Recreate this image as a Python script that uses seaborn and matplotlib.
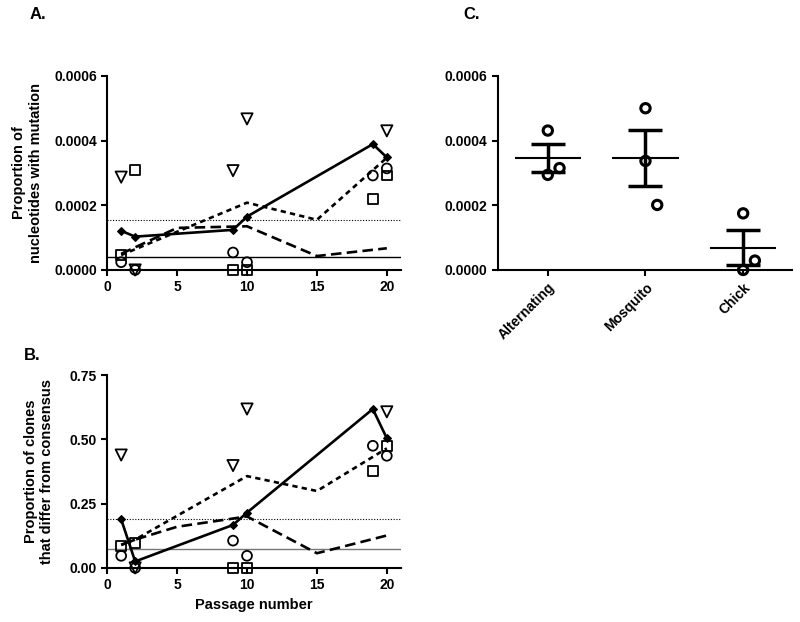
import numpy as np
import matplotlib
matplotlib.use("Agg")
import matplotlib.pyplot as plt
import seaborn as sns

# --- data ---
# open symbols: individual lineages
circle_x = [1, 2, 9, 10, 19, 20]
square_x = [1, 2, 9, 10, 19, 20]
tri_x = [1, 2, 9, 10, 20]

A_circle = [0.000024, 0.0, 0.000054, 0.000024, 0.000292, 0.000314]
A_square = [0.000046, 0.000308, 0.0, 0.0, 0.000220, 0.000292]
A_tri = [0.000287, 0.0, 0.000307, 0.000467, 0.000430]

B_circle = [0.047, 0.0, 0.106, 0.047, 0.475, 0.436]
B_square = [0.086, 0.098, 0.0, 0.0, 0.377, 0.475]
B_tri = [0.439, 0.0, 0.398, 0.618, 0.607]

# lines
solid_x = [1, 2, 9, 10, 19, 20]
A_solid = [0.000121, 0.000103, 0.000124, 0.000165, 0.000389, 0.000348]
B_solid = [0.189, 0.025, 0.167, 0.215, 0.618, 0.504]

short_x = [1, 2, 10, 15, 20]
A_short = [0.000046, 0.000064, 0.000208, 0.000155, 0.000347]
B_short = [0.089, 0.110, 0.357, 0.299, 0.465]

long_x = [1, 2, 5, 10, 15, 20]
A_long = [0.000050, 0.000070, 0.000130, 0.000135, 0.000043, 0.000067]
B_long = [0.090, 0.110, 0.160, 0.200, 0.057, 0.126]

# reference levels
A_dotted, A_thin = 0.000155, 0.000039
B_dotted, B_thin = 0.190, 0.073

# panel C
groups = ["Alternating", "Mosquito", "Chick"]
alt_vals = [0.000431, 0.000294, 0.000315]
mos_vals = [0.000500, 0.000337, 0.000201]
chick_vals = [0.000175, 0.0, 0.000029]
point_shift = [0, 0, 0.12]   # small horizontal offset of overlapping points

# --- style ---
sns.set_style("ticks")
plt.rcParams["font.family"] = ["Liberation Sans", "DejaVu Sans"]
plt.rcParams["font.weight"] = "bold"
plt.rcParams["axes.labelweight"] = "bold"
plt.rcParams["font.size"] = 10
plt.rcParams["text.color"] = "black"
plt.rcParams["axes.labelcolor"] = "black"
plt.rcParams["axes.linewidth"] = 1.5
plt.rcParams["xtick.major.width"] = 1.5
plt.rcParams["ytick.major.width"] = 1.5
plt.rcParams["xtick.major.size"] = 4
plt.rcParams["ytick.major.size"] = 4
plt.rcParams["xtick.color"] = "black"
plt.rcParams["ytick.color"] = "black"
plt.rcParams["axes.edgecolor"] = "black"

fig = plt.figure(figsize=(8, 6.22), dpi=100)
axA = fig.add_axes([0.134, 0.566, 0.367, 0.312])
axB = fig.add_axes([0.134, 0.087, 0.367, 0.310])
axC = fig.add_axes([0.6225, 0.566, 0.3675, 0.312])


def passage_panel(ax, circ, sq, tri, solid, short, long_, dotted, thin, thin_col):
    ax.axhline(dotted, color="black", lw=0.8, ls=(0, (1, 1.5)), zorder=1)
    ax.axhline(thin, color=thin_col, lw=1.0, zorder=1)
    sns.lineplot(x=solid_x, y=solid, ax=ax, color="black", lw=1.9,
                 marker="D", markersize=4, markeredgecolor="black", zorder=3)
    sns.lineplot(x=short_x, y=short, ax=ax, color="black", lw=1.9,
                 ls=(0, (2, 1.6)), zorder=3)
    sns.lineplot(x=long_x, y=long_, ax=ax, color="black", lw=1.9,
                 ls=(0, (4, 2)), zorder=3)
    kw = dict(ax=ax, facecolor="none", edgecolor="black", linewidth=1.3,
              clip_on=False, zorder=4)
    sns.scatterplot(x=circle_x, y=circ, marker="o", s=50, **kw)
    sns.scatterplot(x=square_x, y=sq, marker="s", s=50, **kw)
    sns.scatterplot(x=tri_x, y=tri, marker="v", s=65, **kw)
    ax.set_xlim(0, 21)
    ax.set_xticks([0, 5, 10, 15, 20])
    sns.despine(ax=ax)


passage_panel(axA, A_circle, A_square, A_tri, A_solid, A_short, A_long,
              A_dotted, A_thin, "black")
axA.set_ylim(0, 0.0006)
axA.set_yticks([0, 0.0002, 0.0004, 0.0006])
axA.set_yticklabels([f"{v:.4f}" for v in [0, 0.0002, 0.0004, 0.0006]])
axA.set_ylabel("Proportion of\nnucleotides with mutation", fontsize=10.5)
axA.yaxis.set_label_coords(-0.22, 0.5)

passage_panel(axB, B_circle, B_square, B_tri, B_solid, B_short, B_long,
              B_dotted, B_thin, "#777777")
axB.set_ylim(0, 0.75)
axB.set_yticks([0, 0.25, 0.5, 0.75])
axB.set_yticklabels([f"{v:.2f}" for v in [0, 0.25, 0.5, 0.75]])
axB.set_ylabel("Proportion of clones\nthat differ from consensus", fontsize=10.5)
axB.yaxis.set_label_coords(-0.18, 0.5)
axB.set_xlabel("Passage number", fontsize=10.5)

# panel C: points with mean and SEM
for i, vals in enumerate([alt_vals, mos_vals, chick_vals]):
    vals = np.array(vals)
    m = vals.mean()
    sem = vals.std(ddof=1) / np.sqrt(len(vals))
    axC.errorbar(i, m, yerr=sem, fmt="none", ecolor="black", elinewidth=2.5,
                 capsize=12, capthick=2.5, zorder=2)
    axC.hlines(m, i - 0.34, i + 0.34, color="black", lw=1.5, zorder=2)
    xs = [i + d for d in point_shift]
    sns.scatterplot(x=xs, y=vals, ax=axC, marker="o", s=45, facecolor="none",
                    edgecolor="black", linewidth=2.2, clip_on=False, zorder=4)

axC.set_xlim(-0.51, 2.5)
axC.set_ylim(0, 0.0006)
axC.set_yticks([0, 0.0002, 0.0004, 0.0006])
axC.set_yticklabels([f"{v:.4f}" for v in [0, 0.0002, 0.0004, 0.0006]])
axC.set_xticks(range(len(groups)))
axC.set_xticklabels(groups, rotation=45, ha="right", rotation_mode="anchor")
sns.despine(ax=axC)

for ax in (axA, axB, axC):
    for lab in ax.get_xticklabels() + ax.get_yticklabels():
        lab.set_fontweight("bold")

fig.text(0.047, 0.977, "A.", fontsize=12, fontweight="bold", va="center", ha="center")
fig.text(0.040, 0.429, "B.", fontsize=12, fontweight="bold", va="center", ha="center")
fig.text(0.590, 0.977, "C.", fontsize=12, fontweight="bold", va="center", ha="center")

fig.savefig("out.png", dpi=100)
